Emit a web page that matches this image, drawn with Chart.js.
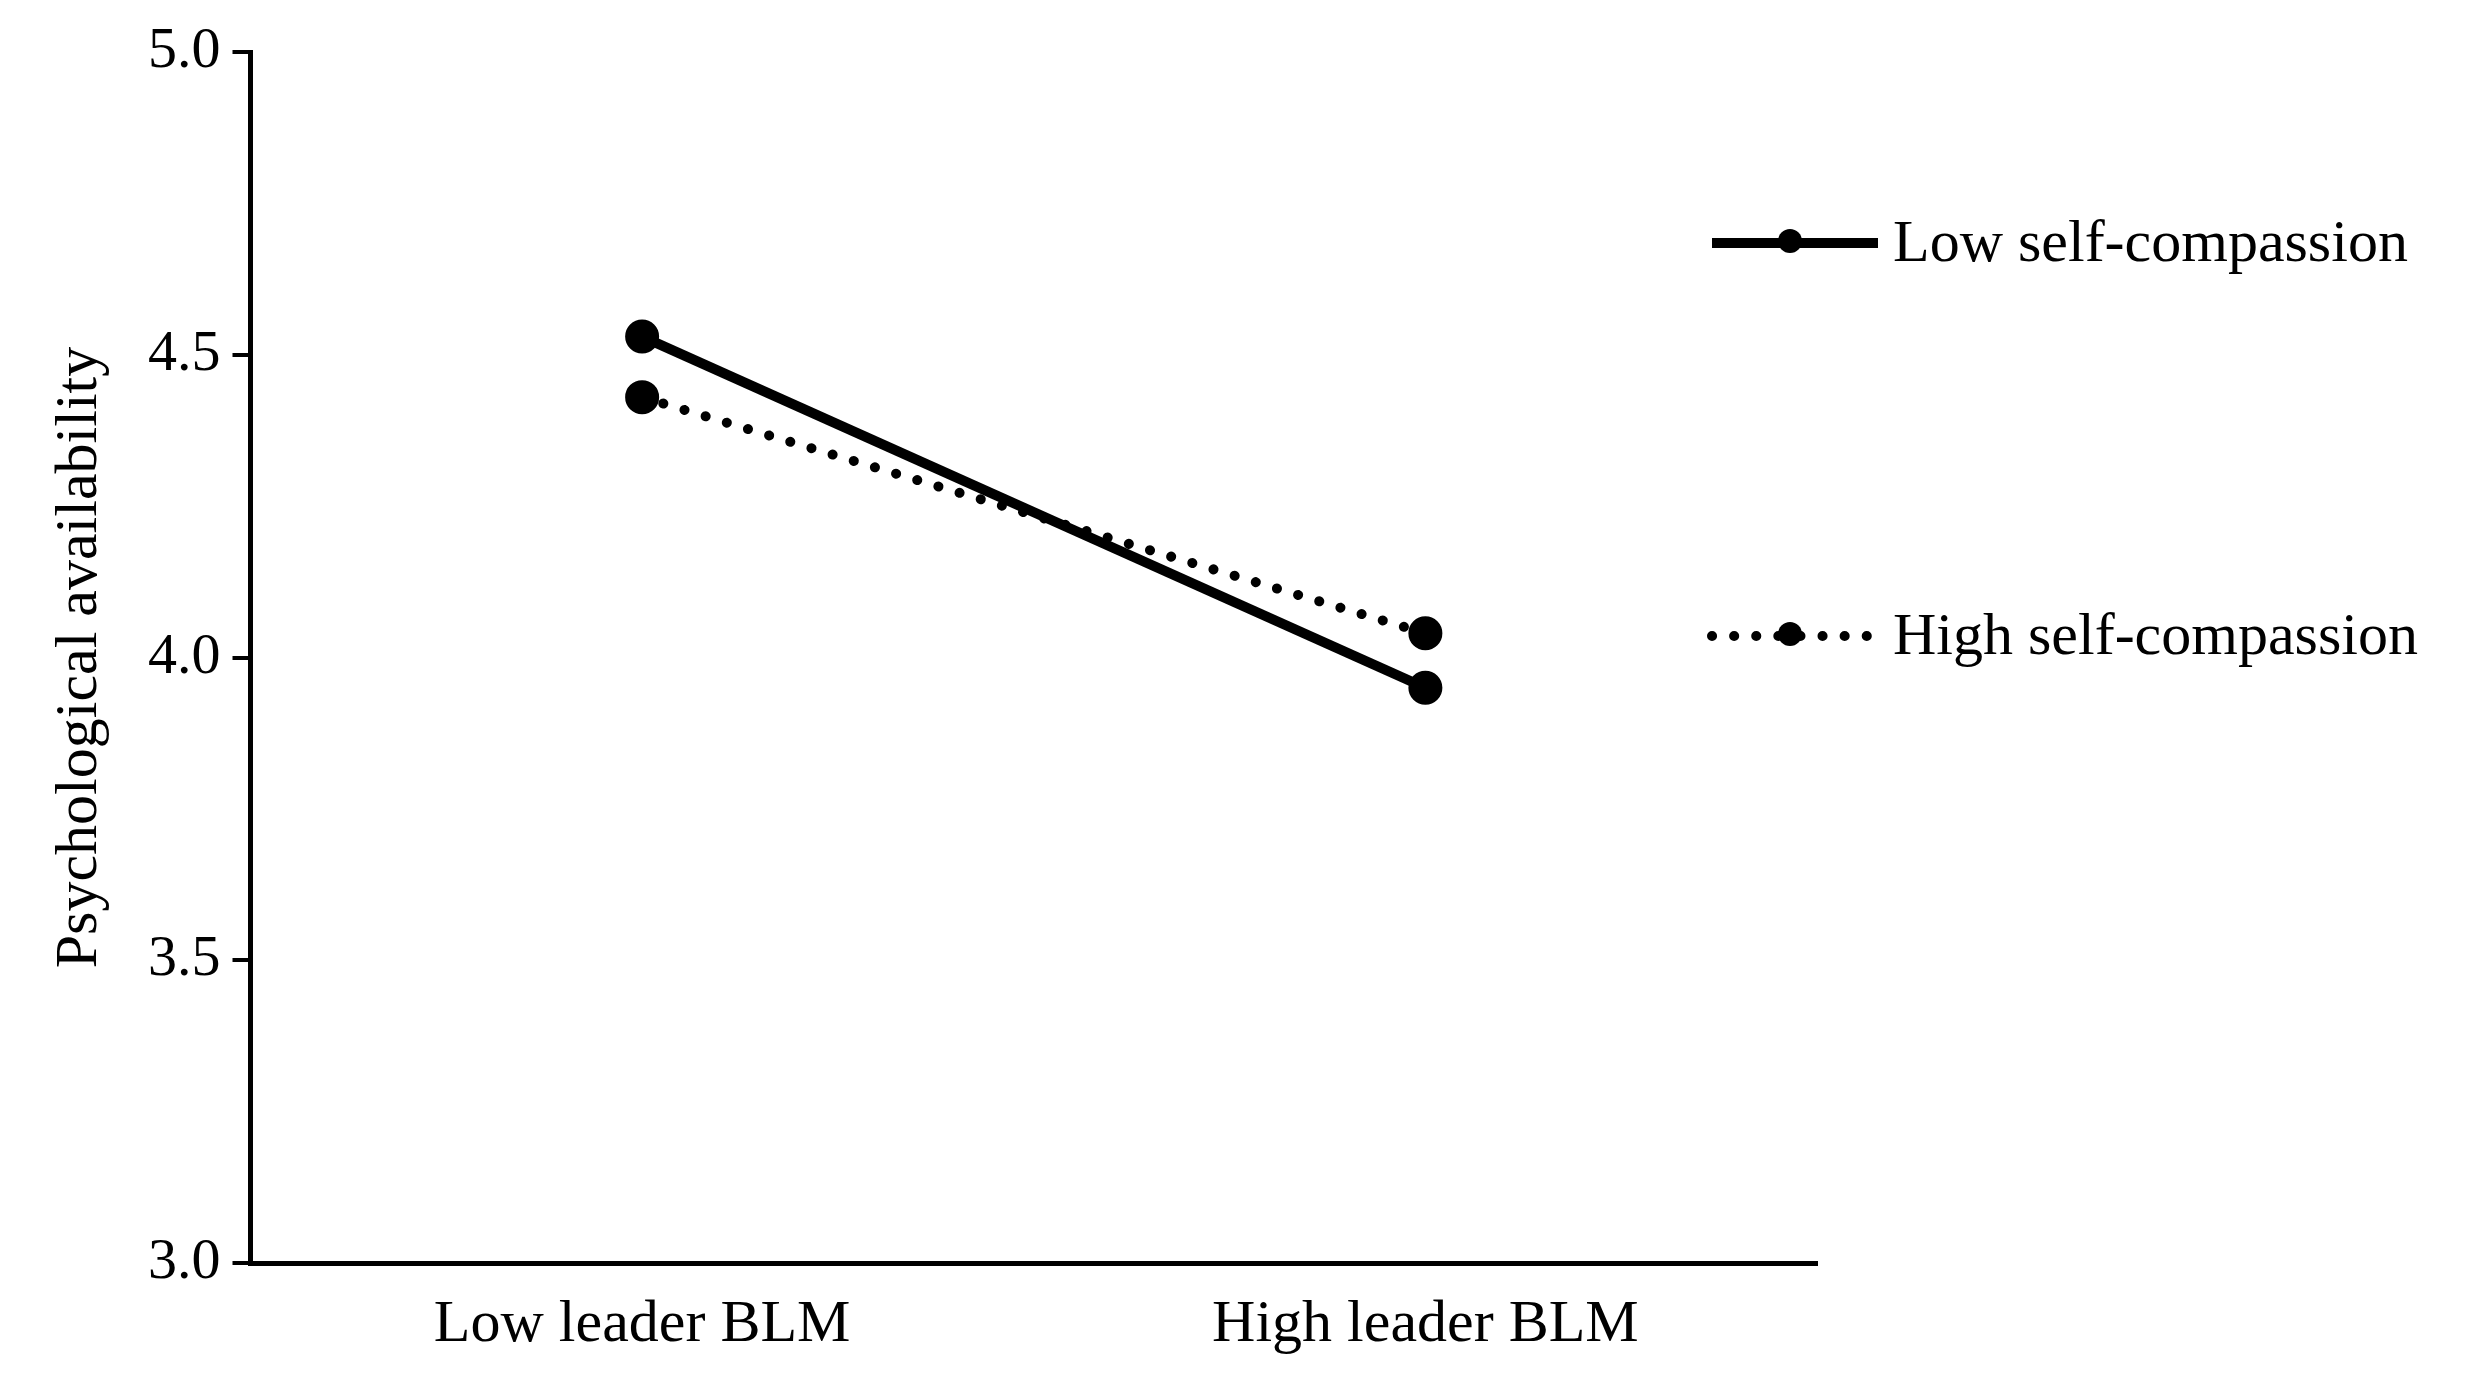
<!DOCTYPE html>
<html>
<head>
<meta charset="utf-8">
<script src="https://cdn.jsdelivr.net/npm/chart.js@4"></script>
<style>
  html, body { margin: 0; padding: 0; background: #fff; }
  #wrap { width: 2488px; height: 1391px; }
</style>
</head>
<body>
<div id="wrap"><canvas id="chart"></canvas></div>
<script>
// data
const categories = ['Low leader BLM', 'High leader BLM'];
const seriesNames = ['Low self-compassion', 'High self-compassion'];
const lowSelfCompassion = [4.53, 3.95];
const highSelfCompassion = [4.43, 4.04];
const yTicks = [3.0, 3.5, 4.0, 4.5, 5.0];

const FONT = '"Liberation Serif", "Times New Roman", serif';
const DOTTED = [0.1, 22];

// legend drawn at the right, like the original
const sideLegend = {
    id: 'sideLegend',
    afterDraw(chart) {
        const ctx = chart.ctx;
        const items = [
            { name: seriesNames[0], y: 243, dash: [] },
            { name: seriesNames[1], y: 636, dash: DOTTED }
        ];
        items.forEach(it => {
            ctx.save();
            ctx.strokeStyle = '#000';
            ctx.lineWidth = 10;
            ctx.lineCap = it.dash.length ? 'round' : 'butt';
            ctx.setLineDash(it.dash);
            ctx.beginPath();
            ctx.moveTo(1712, it.y);
            ctx.lineTo(1878, it.y);
            ctx.stroke();
            ctx.setLineDash([]);
            ctx.fillStyle = '#000';
            ctx.beginPath();
            ctx.arc(1790, it.y - 2, 12, 0, Math.PI * 2);
            ctx.fill();
            ctx.font = '60px ' + FONT;
            ctx.textBaseline = 'middle';
            ctx.fillText(it.name, 1893, it.y + 2);
            ctx.restore();
        });
    }
};

new Chart(document.getElementById('chart'), {
    type: 'line',
    data: {
        labels: categories,
        datasets: [
            {
                label: seriesNames[0], data: lowSelfCompassion,
                borderColor: '#000', backgroundColor: '#000',
                borderWidth: 10, pointRadius: 12, pointHoverRadius: 12
            },
            {
                label: seriesNames[1], data: highSelfCompassion,
                borderColor: '#000', backgroundColor: '#000',
                borderWidth: 10, borderDash: DOTTED, borderCapStyle: 'round',
                pointRadius: 12, pointHoverRadius: 12
            }
        ]
    },
    options: {
        responsive: true,
        maintainAspectRatio: false,
        animation: false,
        layout: { padding: { top: 52, right: 671, left: 40, bottom: 12 } },
        plugins: { legend: { display: false }, tooltip: { enabled: false } },
        scales: {
            x: {
                offset: true,
                grid: { display: false },
                border: { display: true, color: '#000', width: 5 },
                ticks: { color: '#000', font: { family: FONT, size: 60 }, padding: 18 }
            },
            y: {
                min: 3, max: 5,
                afterBuildTicks: axis => { axis.ticks = yTicks.map(v => ({ value: v })); },
                grid: { drawOnChartArea: false, color: '#000', lineWidth: 4, tickLength: 18 },
                border: { color: '#000', width: 5 },
                ticks: {
                    color: '#000', font: { family: FONT, size: 58 }, padding: 12,
                    callback: v => Number(v).toFixed(1)
                },
                title: {
                    display: true, text: 'Psychological availability', color: '#000',
                    font: { family: FONT, size: 60 }, padding: { bottom: 20 }
                }
            }
        }
    },
    plugins: [sideLegend]
});
</script>
</body>
</html>
